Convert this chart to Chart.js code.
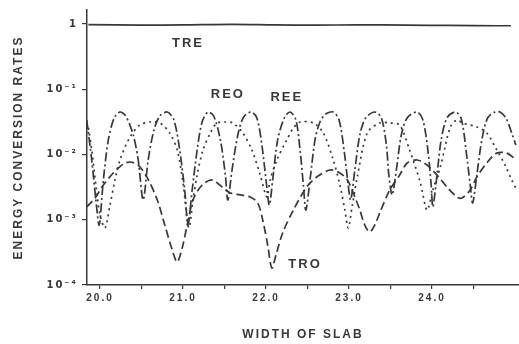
<!DOCTYPE html>
<html>
<head>
<meta charset="utf-8">
<script src="https://cdn.jsdelivr.net/npm/chart.js@4.4.1/dist/chart.umd.min.js"></script>
<style>
  html, body { margin: 0; padding: 0; background: #fff; }
  #wrap { width: 519px; height: 344px; }
</style>
</head>
<body>
<div id="wrap"><canvas id="chartSlab" width="519" height="344"></canvas></div>
<script>
/* Energy conversion rates vs width of slab */

// TRE (solid, near 1)
const treX = [19.86, 20.5, 21.0, 21.6, 22.1, 22.6, 23.1, 23.7, 24.2, 24.8, 24.95];
const treY = [0.98, 0.96, 0.97, 0.99, 0.97, 0.96, 0.97, 0.96, 0.95, 0.94, 0.94];

// REO (dash-dot, tall arcs)
const reoX = [19.84, 19.90, 19.95, 19.99, 20.04, 20.10, 20.17, 20.24, 20.31, 20.40, 20.46, 20.52, 20.58, 20.65, 20.72, 20.81,
  20.89, 20.96, 21.02, 21.06, 21.11, 21.17, 21.23, 21.30, 21.37, 21.45, 21.51, 21.54, 21.59, 21.66, 21.73, 21.82,
  21.89, 21.95, 22.00, 22.04, 22.08, 22.14, 22.22, 22.29, 22.36, 22.41, 22.45, 22.48, 22.53, 22.59, 22.65, 22.72, 22.81,
  22.88, 22.94, 22.99, 23.02, 23.07, 23.13, 23.20, 23.31, 23.39, 23.45, 23.48, 23.52, 23.57, 23.63, 23.70, 23.82,
  23.89, 23.95, 23.99, 24.01, 24.06, 24.11, 24.18, 24.28, 24.35, 24.41, 24.46, 24.49, 24.54, 24.60, 24.67, 24.76, 24.82,
  24.89, 24.96, 25.01];
const reoY = [0.0338, 0.00824, 0.00201, 0.00083, 0.00407, 0.0167, 0.0363, 0.0448, 0.0389, 0.0199, 0.00824, 0.00201, 0.00824, 0.0238, 0.0389, 0.0448,
  0.0338, 0.0117, 0.00286, 0.00083, 0.00286, 0.0117, 0.0315, 0.0448, 0.0389, 0.0167, 0.00485, 0.00201, 0.00578, 0.0199, 0.0376, 0.0448,
  0.0363, 0.0140, 0.00407, 0.00168, 0.00407, 0.0167, 0.0363, 0.0448, 0.0338, 0.0117, 0.00341, 0.00141, 0.00407, 0.0167, 0.0315, 0.0418, 0.0448,
  0.0338, 0.0117, 0.00341, 0.00201, 0.00578, 0.0199, 0.0363, 0.0448, 0.0363, 0.0140, 0.00485, 0.00240, 0.00578, 0.0199, 0.0363, 0.0448,
  0.0338, 0.0117, 0.00341, 0.00157, 0.00485, 0.0167, 0.0363, 0.0448, 0.0363, 0.0117, 0.00341, 0.00181, 0.00485, 0.0167, 0.0363, 0.0448, 0.0448,
  0.0363, 0.0214, 0.0140];

// REE (dotted, flat-topped arcs)
const reeX = [19.86, 19.90, 19.95, 20.00, 20.06, 20.12, 20.18, 20.24, 20.36, 20.48, 20.60, 20.72, 20.84, 20.93, 21.00, 21.07,
  21.12, 21.17, 21.24, 21.33, 21.41, 21.51, 21.60, 21.72, 21.83, 21.93, 22.01, 22.05, 22.13, 22.25, 22.33, 22.41,
  22.57, 22.69, 22.81, 22.89, 22.95, 22.99, 23.04, 23.10, 23.22, 23.37, 23.49, 23.61, 23.73, 23.86, 23.94, 24.01,
  24.10, 24.22, 24.30, 24.37, 24.54, 24.66, 24.78, 24.88, 24.96, 25.02];
const reeY = [0.0255, 0.0117, 0.00341, 0.00118, 0.00075, 0.00168, 0.00407, 0.00824, 0.0185, 0.0283, 0.0315, 0.0304, 0.0214, 0.0117, 0.00366, 0.00075,
  0.00201, 0.00485, 0.0117, 0.0214, 0.0304, 0.0315, 0.0304, 0.0214, 0.0117, 0.00485, 0.00223, 0.00407, 0.00824, 0.0167, 0.0255, 0.0315,
  0.0304, 0.0214, 0.00824, 0.00341, 0.00141, 0.00075, 0.00168, 0.00452, 0.0214, 0.0304, 0.0304, 0.0283, 0.0117, 0.00366, 0.00141, 0.00286,
  0.00643, 0.0264, 0.0338, 0.0304, 0.0264, 0.0214, 0.0117, 0.00690, 0.00407, 0.00286];

// TRO (long dash, deep dips)
const troX = [19.84, 19.94, 20.04, 20.16, 20.28, 20.36, 20.46, 20.57, 20.69, 20.78, 20.87, 20.93, 20.99, 21.05, 21.12, 21.23,
  21.35, 21.47, 21.57, 21.69, 21.81, 21.90, 21.96, 22.02, 22.07, 22.12, 22.20, 22.33, 22.49, 22.61, 22.77, 22.87,
  22.98, 23.07, 23.13, 23.19, 23.25, 23.31, 23.37, 23.49, 23.61, 23.70, 23.82, 23.94, 24.06, 24.18, 24.30, 24.36,
  24.46, 24.54, 24.66, 24.78, 24.90, 25.02];
const troY = [0.00157, 0.00215, 0.00341, 0.00520, 0.00715, 0.00767, 0.00690, 0.00437, 0.00201, 0.00083, 0.000344, 0.000225, 0.000369, 0.00083, 0.00201, 0.00341,
  0.00407, 0.00318, 0.00257, 0.00240, 0.00223, 0.00181, 0.00099, 0.000410, 0.000182, 0.000288, 0.000627, 0.00141, 0.00318, 0.00452, 0.00578, 0.00539,
  0.00407, 0.00223, 0.00141, 0.00083, 0.00065, 0.00083, 0.00127, 0.00286, 0.00485, 0.00741, 0.00824, 0.00690, 0.00485, 0.00318, 0.00223, 0.00215,
  0.00286, 0.00452, 0.00741, 0.0105, 0.0105, 0.00824];

// axis ticks
const xTickValues = [20, 20.5, 21, 21.5, 22, 22.5, 23, 23.5, 24, 24.5];
const xTickLabels = ['20.0', '', '21.0', '', '22.0', '', '23.0', '', '24.0', ''];
const yTickValues = [1e-4, 1e-3, 1e-2, 1e-1, 1];
const yTickLabels = ['10⁻⁴', '10⁻³', '10⁻²', '10⁻¹', '1'];

// curve labels placed in data space
const curveNames = ['TRE', 'REO', 'REE', 'TRO'];
const curveLabelX = [21.06, 21.54, 22.25, 22.47];
const curveLabelY = [0.51, 0.082, 0.076, 0.00021];

const ink = '#383838';

const toPoints = (xs, ys) => xs.map((x, i) => ({ x: x, y: ys[i] }));

const lineSet = (label, xs, ys, dash) => ({
  label: label,
  data: toPoints(xs, ys),
  borderColor: ink,
  borderWidth: 1.7,
  borderDash: dash,
  pointRadius: 0,
  tension: 0.3,
  fill: false,
});

// letter spacing like the old typeset figure
const spacingPlugin = {
  id: 'spacing',
  beforeDraw: (chart) => {
    chart.ctx.letterSpacing = '2px';
  },
};

const curveLabels = {
  id: 'curveLabels',
  afterDatasetsDraw: (chart) => {
    const ctx = chart.ctx;
    const xs = chart.scales.x;
    const ys = chart.scales.y;
    ctx.save();
    ctx.fillStyle = ink;
    ctx.font = 'bold 13px "Liberation Sans", Arial, sans-serif';
    ctx.textAlign = 'center';
    ctx.textBaseline = 'middle';
    curveNames.forEach((name, i) => {
      ctx.fillText(name, xs.getPixelForValue(curveLabelX[i]), ys.getPixelForValue(curveLabelY[i]));
    });
    ctx.restore();
  },
};

const ctx = document.getElementById('chartSlab').getContext('2d');
const myChart = new Chart(ctx, {
  type: 'line',
  plugins: [spacingPlugin, curveLabels],
  data: {
    datasets: [
      lineSet('TRE', treX, treY, []),
      lineSet('REO', reoX, reoY, [9, 3, 2, 3]),
      lineSet('REE', reeX, reeY, [2, 4]),
      lineSet('TRO', troX, troY, [8, 4]),
    ],
  },
  options: {
    responsive: false,
    animation: false,
    layout: { padding: { top: 10, left: 0, right: 0, bottom: 0 } },
    plugins: {
      legend: { display: false },
      tooltip: { enabled: false },
    },
    scales: {
      x: {
        type: 'linear',
        min: 19.843,
        max: 25.048,
        afterFit: (scale) => { scale.height = 59; },
        afterBuildTicks: (scale) => {
          scale.ticks = xTickValues.map((v) => ({ value: v }));
        },
        ticks: {
          autoSkip: false,
          maxRotation: 0,
          padding: 3,
          color: ink,
          font: { family: '"Liberation Sans", Arial, sans-serif', size: 10, weight: 'bold' },
          callback: (value, index) => xTickLabels[index],
        },
        grid: { drawOnChartArea: false, drawTicks: true, tickLength: 4, color: ink, lineWidth: 1.2 },
        border: { display: true, color: ink, width: 1.5 },
        title: {
          display: true,
          text: 'WIDTH OF SLAB',
          color: ink,
          font: { family: '"Liberation Sans", Arial, sans-serif', size: 12, weight: 'bold' },
          padding: { top: 0, bottom: 2 },
        },
      },
      y: {
        type: 'logarithmic',
        min: 1e-4,
        max: 1.639,
        afterFit: (scale) => { scale.width = 87; },
        afterBuildTicks: (scale) => {
          scale.ticks = yTickValues.map((v) => ({ value: v }));
        },
        ticks: {
          autoSkip: false,
          padding: 4,
          color: ink,
          font: { family: '"DejaVu Sans", "Liberation Sans", Arial, sans-serif', size: 10, weight: 'bold' },
          callback: (value, index) => yTickLabels[index],
        },
        grid: { drawOnChartArea: false, drawTicks: true, tickLength: 5, color: ink, lineWidth: 1.2 },
        border: { display: true, color: ink, width: 1.5 },
        title: {
          display: true,
          text: 'ENERGY CONVERSION RATES',
          color: ink,
          font: { family: '"Liberation Sans", Arial, sans-serif', size: 12, weight: 'bold' },
          padding: { top: 11, bottom: 0 },
        },
      },
    },
  },
});
</script>
</body>
</html>
